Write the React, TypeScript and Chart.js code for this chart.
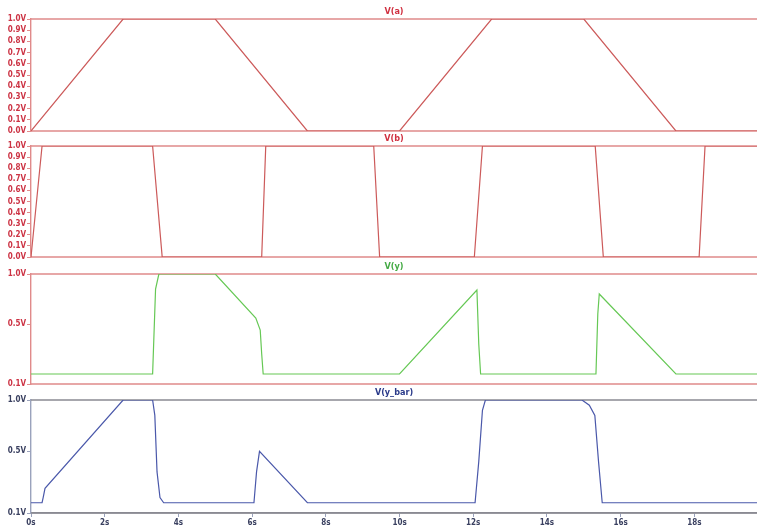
import React, { useEffect, useRef } from "react";
import { Chart, registerables } from "chart.js";
Chart.register(...registerables);

// ---- data ----
const X_MAX = 19.7;
const xTickValues = [0, 2, 4, 6, 8, 10, 12, 14, 16, 18];
const xTickLabels = ["0s", "2s", "4s", "6s", "8s", "10s", "12s", "14s", "16s", "18s"];

const yTicksFull = [0, 0.1, 0.2, 0.3, 0.4, 0.5, 0.6, 0.7, 0.8, 0.9, 1.0];
const yTicksFullLabels = ["0.0V", "0.1V", "0.2V", "0.3V", "0.4V", "0.5V", "0.6V", "0.7V", "0.8V", "0.9V", "1.0V"];
const yTicksShort = [-0.1, 0.5, 1.0];
const yTicksShortLabels = ["0.1V", "0.5V", "1.0V"];

const aT = [0, 2.5, 5, 7.5, 10, 12.5, 15, 17.5, 19.7];
const aV = [0, 1, 1, 0, 0, 1, 1, 0, 0];

const bT = [0, 0.3, 3.3, 3.56, 6.26, 6.37, 9.3, 9.46, 12.03, 12.25, 15.31, 15.53, 18.13, 18.29, 19.7];
const bV = [0, 1, 1, 0, 0, 1, 1, 0, 0, 1, 1, 0, 0, 1, 1];

const yT = [0, 3.3, 3.38, 3.47, 5.0, 6.1, 6.22, 6.26, 6.3, 10.0, 12.1, 12.15, 12.2, 15.33, 15.38, 15.42, 17.5, 19.7];
const yV = [0, 0, 0.85, 1.0, 1.0, 0.56, 0.44, 0.2, 0, 0, 0.84, 0.3, 0, 0, 0.6, 0.8, 0, 0];

const ybT = [0, 0.3, 0.33, 0.38, 2.5, 3.3, 3.36, 3.42, 3.5, 3.6, 6.05, 6.12, 6.2, 7.5, 12.05, 12.15, 12.25, 12.33, 14.95, 15.15, 15.3, 15.4, 15.5, 19.7];
const ybV = [0, 0, 0.05, 0.14, 1, 1, 0.85, 0.3, 0.05, 0, 0, 0.3, 0.5, 0, 0, 0.4, 0.9, 1, 1, 0.95, 0.85, 0.4, 0, 0];

const FONT = "'Liberation Sans Narrow', 'DejaVu Sans Condensed', 'Arial Narrow', sans-serif";

type Spec = {
  top: number;
  height: number;
  padTop: number;
  padBottom: number;
  title: string;
  titleColor: string;
  t: number[];
  v: number[];
  lineColor: string;
  yMin: number;
  yMax: number;
  yTicks: number[];
  yLabels: string[];
  tickColor: string;
  frameColor: string;
  axisColor: string;
  showX: boolean;
};

function Panel({ spec }: { spec: Spec }) {
  const ref = useRef<HTMLCanvasElement | null>(null);
  useEffect(() => {
    if (!ref.current) return;
    const s = spec;
    const framePlugin = {
      id: "frame" + s.title.replace(/[^a-z]/gi, ""),
      beforeDatasetsDraw(chart: any) {
        const { ctx, chartArea } = chart;
        ctx.save();
        ctx.strokeStyle = s.frameColor;
        ctx.lineWidth = 1.6;
        ctx.beginPath();
        ctx.moveTo(chartArea.left, chartArea.top);
        ctx.lineTo(chartArea.right, chartArea.top);
        ctx.moveTo(chartArea.left, chartArea.bottom);
        ctx.lineTo(chartArea.right, chartArea.bottom);
        ctx.stroke();
        ctx.restore();
      },
      afterDraw(chart: any) {
        const { ctx, chartArea } = chart;
        ctx.save();
        ctx.fillStyle = s.titleColor;
        ctx.font = "bold 9px " + FONT;
        ctx.textAlign = "center";
        ctx.textBaseline = "middle";
        ctx.fillText(s.title, (chartArea.left + chartArea.right) / 2, chartArea.top - 7);
        ctx.restore();
      },
    };
    const chart = new Chart(ref.current, {
      type: "line",
      data: {
        datasets: [
          {
            data: s.t.map((x, i) => ({ x, y: s.v[i] })),
            borderColor: s.lineColor,
            borderWidth: 1.2,
            pointRadius: 0,
            tension: 0,
            fill: false,
          },
        ],
      },
      options: {
        responsive: false,
        animation: false,
        devicePixelRatio: 1,
        layout: { padding: { top: s.padTop, bottom: s.padBottom, left: 0, right: 0 } },
        plugins: { legend: { display: false }, tooltip: { enabled: false } },
        scales: {
          x: {
            type: "linear",
            min: 0,
            max: X_MAX,
            display: s.showX,
            afterBuildTicks: (sc: any) => {
              sc.ticks = xTickValues.map((value) => ({ value }));
            },
            afterFit: (sc: any) => {
              sc.height = s.showX ? 16 : 0;
            },
            ticks: {
              autoSkip: false,
              maxRotation: 0,
              padding: 1,
              color: "#3a4060",
              font: { family: FONT, size: 8, weight: "bold" },
              callback: (_v: any, i: number) => xTickLabels[i],
            },
            grid: { drawOnChartArea: false, drawTicks: true, tickLength: 4, color: s.axisColor },
            border: { display: true, color: s.frameColor, width: 1.6 },
          },
          y: {
            type: "linear",
            min: s.yMin,
            max: s.yMax,
            afterBuildTicks: (sc: any) => {
              sc.ticks = s.yTicks.map((value) => ({ value }));
            },
            afterFit: (sc: any) => {
              sc.width = 31;
            },
            ticks: {
              autoSkip: false,
              padding: 1,
              color: s.tickColor,
              font: { family: FONT, size: 8, weight: "bold" },
              callback: (_v: any, i: number) => s.yLabels[i],
            },
            grid: { drawOnChartArea: false, drawTicks: true, tickLength: 4, color: s.axisColor },
            border: { display: true, color: s.axisColor, width: 1.4 },
          },
        },
      },
      plugins: [framePlugin],
    } as any);
    return () => chart.destroy();
  }, [spec]);
  return (
    <canvas
      ref={ref}
      width={757}
      height={spec.height}
      style={{ position: "absolute", left: 0, top: spec.top, width: 757, height: spec.height }}
    />
  );
}

const RED = "#e08a8a";
const specs: Spec[] = [
  {
    top: 0, height: 140, padTop: 19, padBottom: 9, title: "V(a)", titleColor: "#d03040",
    t: aT, v: aV, lineColor: "#cc5a5a", yMin: 0, yMax: 1, yTicks: yTicksFull, yLabels: yTicksFullLabels,
    tickColor: "#cc3344", frameColor: RED, axisColor: RED, showX: false,
  },
  {
    top: 127, height: 140, padTop: 19, padBottom: 10, title: "V(b)", titleColor: "#d03040",
    t: bT, v: bV, lineColor: "#cc5a5a", yMin: 0, yMax: 1, yTicks: yTicksFull, yLabels: yTicksFullLabels,
    tickColor: "#cc3344", frameColor: RED, axisColor: RED, showX: false,
  },
  {
    top: 255, height: 140, padTop: 19, padBottom: 11, title: "V(y)", titleColor: "#44aa44",
    t: yT, v: yV, lineColor: "#66c855", yMin: -0.1, yMax: 1, yTicks: yTicksShort, yLabels: yTicksShortLabels,
    tickColor: "#cc3344", frameColor: RED, axisColor: RED, showX: false,
  },
  {
    top: 381, height: 148, padTop: 19, padBottom: 0, title: "V(y_bar)", titleColor: "#2a3a8a",
    t: ybT, v: ybV, lineColor: "#4a58aa", yMin: -0.1, yMax: 1, yTicks: yTicksShort, yLabels: yTicksShortLabels,
    tickColor: "#3a4060", frameColor: "#8a8a92", axisColor: "#9aa2bc", showX: true,
  },
];

export default function App() {
  return (
    <div style={{ position: "absolute", left: 0, top: 0, width: 757, height: 529, background: "#fff", overflow: "hidden" }}>
      {specs.map((s) => (
        <Panel key={s.title} spec={s} />
      ))}
    </div>
  );
}
